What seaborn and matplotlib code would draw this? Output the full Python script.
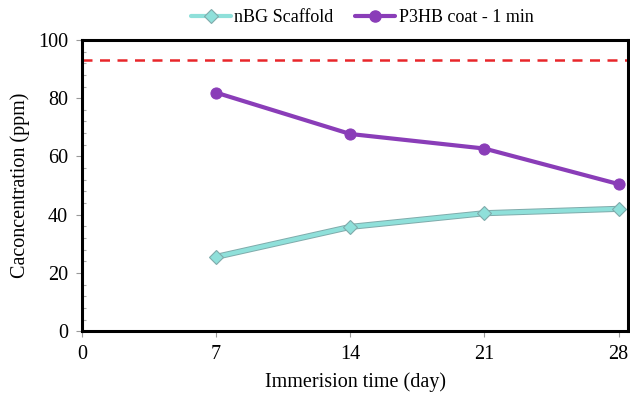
import matplotlib
matplotlib.use("Agg")
import matplotlib.pyplot as plt
from matplotlib.ticker import MultipleLocator
from matplotlib.lines import Line2D
import seaborn as sns
import pandas as pd

days = [7, 14, 21, 28]
nbg_scaffold = [25.5, 35.8, 40.5, 42.0]
p3hb_coat = [81.9, 67.7, 62.7, 50.5]
series_names = ["nBG Scaffold", "P3HB coat - 1 min"]
reference_level = 93.2
x_ticks = [0, 7, 14, 21, 28]
y_ticks = [0, 20, 40, 60, 80, 100]

df = pd.DataFrame({
    "day": days * 2,
    "value": nbg_scaffold + p3hb_coat,
    "series": [series_names[0]] * len(days) + [series_names[1]] * len(days),
})

sns.set_theme(style="white")
plt.rcParams["font.family"] = ["Liberation Serif", "DejaVu Serif"]
plt.rcParams["text.color"] = "black"
plt.rcParams["axes.labelcolor"] = "black"
plt.rcParams["xtick.color"] = "black"
plt.rcParams["ytick.color"] = "black"

fig = plt.figure(figsize=(6.3, 3.99), dpi=100)
ax = fig.add_axes([0.130, 0.170, 0.867, 0.730])

teal_c, teal_edge, purple_c = "#8fe0da", "#7fabab", "#8a3db8"

# grey outline underneath the teal line
sns.lineplot(data=df[df.series == series_names[0]], x="day", y="value",
             color=teal_edge, linewidth=4.4, ax=ax, legend=False)
palette = {series_names[0]: teal_c, series_names[1]: purple_c}
sns.lineplot(data=df, x="day", y="value", hue="series", style="series",
             markers={series_names[0]: "D", series_names[1]: "o"},
             dashes=False, palette=palette, linewidth=3, markersize=8,
             ax=ax, legend=False)

lines = ax.get_lines()
teal, purple = lines[1], lines[2]
teal.set_markeredgecolor(teal_edge)
teal.set_markeredgewidth(0.8)
teal.set_markersize(7.5)
purple.set_markeredgecolor(purple_c)

ax.axhline(reference_level, color="#e8262b", linestyle=(0, (4, 3)), linewidth=1.8, zorder=1)

ax.set_xlim(0, 28.5)
ax.set_ylim(0, 100)
ax.set_xticks(x_ticks)
ax.set_yticks(y_ticks)
ax.yaxis.set_minor_locator(MultipleLocator(4))
ax.tick_params(axis="both", which="major", direction="out", length=4, width=0.8,
               color="#999999", labelcolor="black", labelsize=14.5,
               left=True, bottom=True, pad=6)
ax.tick_params(axis="y", which="minor", direction="in", length=3, width=0.8,
               color="#aaaaaa", left=True)
for s in ax.spines.values():
    s.set_color("black")
    s.set_linewidth(2.2)

ax.set_xlabel("Immerision time (day)", fontsize=14.5, labelpad=6, color="black")
ax.set_ylabel("Caconcentration (ppm)", fontsize=14.5, labelpad=6, color="black")

handles = [
    Line2D([0], [0], color=teal_c, marker="D", markersize=7.5, linewidth=3,
           markeredgecolor=teal_edge, markeredgewidth=0.8),
    Line2D([0], [0], color=purple_c, marker="o", markersize=8, linewidth=3),
]
fig.legend(handles, series_names, loc="center", bbox_to_anchor=(0.575, 0.955), ncol=2,
           frameon=False, fontsize=13, handlelength=2.2, handletextpad=0.2,
           columnspacing=1.2)

fig.savefig("out.png", dpi=100)
